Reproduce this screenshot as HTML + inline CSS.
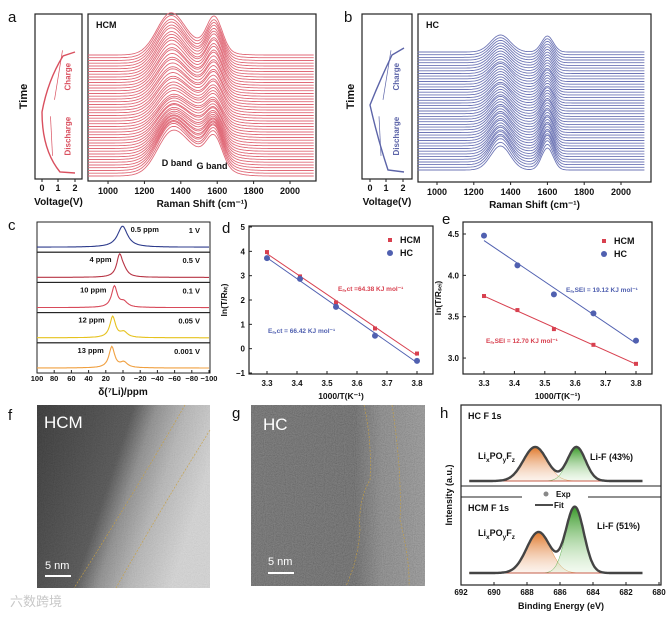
<!DOCTYPE html>
<html><head><meta charset="utf-8"><style>
html,body{margin:0;padding:0;background:#fff;}
svg{display:block;font-family:"Liberation Sans","Noto Sans CJK SC",sans-serif;}
text{font-weight:bold;}
</style></head><body>
<svg id="fig" width="669" height="617" viewBox="0 0 669 617" xmlns="http://www.w3.org/2000/svg">
<defs>
<filter id="noiseF" x="0" y="0" width="100%" height="100%"><feTurbulence type="fractalNoise" baseFrequency="0.9" numOctaves="2" seed="3"/><feColorMatrix type="saturate" values="0"/><feComponentTransfer><feFuncA type="linear" slope="0" intercept="0.45"/></feComponentTransfer></filter>
<linearGradient id="gradF" x1="0" y1="0" x2="1" y2="0.35"><stop offset="0" stop-color="#2a2a2a"/><stop offset="0.5" stop-color="#4a4a4a"/><stop offset="0.62" stop-color="#8a8a8a"/><stop offset="0.78" stop-color="#b5b5b5"/><stop offset="1" stop-color="#d5d5d5"/></linearGradient>
<linearGradient id="gradG" x1="0" y1="0" x2="1" y2="0"><stop offset="0" stop-color="#5a5a5a"/><stop offset="0.6" stop-color="#555"/><stop offset="0.75" stop-color="#7a7a7a"/><stop offset="1" stop-color="#8a8a8a"/></linearGradient>
<linearGradient id="gOr" x1="0" y1="0" x2="0" y2="1"><stop offset="0" stop-color="#e0782a"/><stop offset="1" stop-color="#f5d8c4" stop-opacity="0.3"/></linearGradient>
<linearGradient id="gGr" x1="0" y1="0" x2="0" y2="1"><stop offset="0" stop-color="#3a9a2a"/><stop offset="1" stop-color="#d8efd0" stop-opacity="0.3"/></linearGradient>
</defs>
<g id="root"></g>
</svg>
<script>
// ---------- DATA ----------
// panel a (HCM) per-line band heights (px), bottom to top
const hcmD=[30,31,32,31,30,29,28,27,26,25,24,24,23,23,22,22,22,21,21,22,22,23,23,24,24,25,26,26,27,28,28,29,30,30,31,32,32,33,33,34,34,35,35,36,36];
const hcmG=[27,28,29,29,28,27,26,25,24,23,22,22,21,21,20,20,20,19,19,20,20,21,21,22,22,23,24,24,25,26,26,27,28,28,29,29,30,30,31,31,31,32,32,32,33];
const hcmM=[24,24,23,23,22,22,21,21,20,20,20,19,19,19,18,18,18,18,17,17,17,16,16,16,15,15,15,14,14,14,13,13,13,12,12,12,12,11,11,11,11,10,10,10,10];
// panel b (HC)
const hcD=[24,25,26,26,25,25,24,24,23,23,23,22,22,22,21,21,21,20,20,20,20,19,19,19,19,19,18,18,18,18,18,18,18,18,17,17,17,17,17,17,17,17,17,17,17];
const hcG=[22,23,24,24,24,23,23,22,22,22,21,21,21,20,20,20,19,19,19,19,18,18,18,18,18,17,17,17,17,17,17,17,16,16,16,16,16,16,16,16,16,16,16,16,16];
const ramanTicks=[1000,1200,1400,1600,1800,2000];
// panel c
const nmrShifts=[0.5,4,10,12,13];
const nmrLabels=["0.5 ppm","4 ppm","10 ppm","12 ppm","13 ppm"];
const nmrVolt=["1 V","0.5 V","0.1 V","0.05 V","0.001 V"];
const nmrColors=["#2d3b8c","#b83545","#d84a5a","#e6c21e","#f0a040"];
const nmrTicks=[100,80,60,40,20,0,-20,-40,-60,-80,-100];
// panel d
const tempX=[3.3,3.41,3.53,3.66,3.8];
const dHCM=[3.97,2.97,1.9,0.83,-0.2];
const dHC=[3.72,2.87,1.72,0.53,-0.5];
const dYTicks=[-1,0,1,2,3,4,5];
// panel e
const eHCM=[3.75,3.58,3.35,3.16,2.93];
const eHC=[4.48,4.12,3.77,3.54,3.21];
const eYTicks=[3.0,3.5,4.0,4.5];
const xTicksDE=[3.3,3.4,3.5,3.6,3.7,3.8];
// panel h (center eV, height px, sigma eV)
const hTopCenters=[687.5,685.0];
const hTopHeights=[34,34];
const hBotCenters=[687.3,685.1];
const hBotHeights=[41,66];
const hSigmas=[0.72,0.55];
const hTicks=[692,690,688,686,684,682,680];

// ---------- HELPERS ----------
const NS="http://www.w3.org/2000/svg";
const root=document.getElementById('root');
function mk(tag,attrs,parent){const e=document.createElementNS(NS,tag);for(const k in attrs)e.setAttribute(k,attrs[k]);(parent||root).appendChild(e);return e;}
function txt(x,y,s,size,opts){opts=opts||{};const t=mk('text',{x:x,y:y,'font-size':size,'text-anchor':opts.anchor||'middle',fill:opts.fill||'#111'},opts.parent);if(opts.rot)t.setAttribute('transform','rotate('+opts.rot+' '+x+' '+y+')');if(opts.weight)t.style.fontWeight=opts.weight;t.textContent=s;return t;}
function rect(x,y,w,h,stroke,sw){return mk('rect',{x:x,y:y,width:w,height:h,fill:'none',stroke:stroke||'#222','stroke-width':sw||1.2});}
function line(x1,y1,x2,y2,c,w){return mk('line',{x1:x1,y1:y1,x2:x2,y2:y2,stroke:c||'#222','stroke-width':w||1});}
function g(x,c,s){return Math.exp(-Math.pow((x-c)/s,2));}

// ---------- PANEL LABELS ----------
[['a',8,22],['b',344,22],['c',8,230],['d',222,233],['e',442,224],['f',8,420],['g',232,418],['h',440,418]].forEach(p=>{const t=txt(p[1],p[2],p[0],15,{anchor:'start'});t.style.fontWeight='normal';});

// ---------- RAMAN PANELS ----------
function voltPanel(x0,y0,w,h,ticksX,col,pts,name){
  const r=rect(x0,y0,w,h);
  ticksX.forEach((tx,i)=>{line(tx,y0+h,tx,y0+h+3);txt(tx,y0+h+12,String(i),9);});
  const p=mk('path',{d:pts,fill:'none',stroke:col,'stroke-width':1.4});
  txt(x0+w/2,y0+h+26,'Voltage(V)',10);
  const tm=txt(x0-8,y0+h/2,'Time',11,{rot:-90});
  txt(x0+w/2+12,y0+h*0.38,'Charge',8,{rot:-90,fill:col});
  txt(x0+w/2+12,y0+h*0.74,'Discharge',8,{rot:-90,fill:col});
  line(x0+w/2-4,y0+h*0.52,x0+w/2+4,y0+h*0.22,col,0.7);
  line(x0+w/2-6,y0+h*0.86,x0+w/2-8,y0+h*0.62,col,0.7);
}
function ramanPanel(x0,y0,w,h,scale,Ds,Gs,Ms,baseBot,baseTop,col,dC,gC,dS,gS,name,lbl){
  const fr=rect(x0,y0,w,h);
  const n=Ds.length;const grp=mk('g',{});
  for(let i=n-1;i>=0;i--){
    const base=baseBot+(baseTop-baseBot)*i/(n-1);let d='';
    for(let v=scale.min;v<=scale.max;v+=8){
      const y=base-(Ds[i]*g(v,dC,dS)+Gs[i]*g(v,gC,gS)+(Ms?Ms[i]*g(v,1460,170):0));
      d+=(d?'L':'M')+scale.x(v).toFixed(1)+' '+y.toFixed(1);
    }
    const p=mk('path',{d:d,fill:'none',stroke:col,'stroke-width':0.9},grp);
    
    
  }
  ramanTicks.forEach(t=>{const x=scale.x(t);line(x,y0+h,x,y0+h+3);txt(x,y0+h+13,String(t),9);});
  txt(x0+w/2,y0+h+26,'Raman Shift (cm\u207B\u00B9)',10);
  txt(x0+8,y0+14,lbl,9,{anchor:'start'});
}
const sa={min:890,max:2135,x:v=>88+(v-890)*0.182};
voltPanel(35,14,47,165,[42,58,75],'#d9505f','M75 52 L63 56 Q48 80 42 112 Q42 150 60 172 L75 173','hcm');
ramanPanel(88,14,228,167,sa,hcmD,hcmG,hcmM,176,55,'#e06a78',1340,1585,105,60,'hcm','HCM');
txt(177,166,'D band',9);txt(212,169,'G band',9);
const sb={min:895,max:2130,x:v=>437+(v-1000)*0.184};
voltPanel(362,14,50,165,[370,386,403],'#5c64a8','M404 48 L392 55 Q380 80 370 105 Q378 140 388 170 L404 172','hc');
ramanPanel(418,14,233,168,sb,hcD,hcG,null,170,52,'#6e76b6',1345,1600,75,45,'hc','HC');

// ---------- PANEL C ----------
(function(){
  const x0=37,y0=222,w=173,sh=30.2;const px=p=>123-p*0.86;
  nmrShifts.forEach((s,i)=>{
    const top=y0+i*sh;const fr=rect(x0,top,w,sh,'#222',1);
    let d='';for(let p=100;p>=-100;p-=1){const main=1/(1+Math.pow((p-s)/(i==0?7:4),2));const sh2=i>0?0.25/(1+Math.pow((p+1)/5,2)):0;
      const y=top+sh-5-21*(main+sh2);d+=(d?'L':'M')+px(p).toFixed(1)+' '+y.toFixed(1);}
    const c=mk('path',{d:d,fill:'none',stroke:nmrColors[i],'stroke-width':1.1});
    txt(px(s)-(i==0?-8:8),top+10,nmrLabels[i],7.5,{anchor:i==0?'start':'end'});
    txt(200,top+11,nmrVolt[i],7.5,{anchor:'end'});
  });
  nmrTicks.forEach(t=>{line(px(t),373,px(t),370);txt(px(t),381,String(t).replace('-','\u2212'),7.5);});
  txt(123,395,'\u03B4(\u2077Li)/ppm',10);
})();

// ---------- PANEL D / E ----------
function scatterPanel(o){
  const fr=rect(o.x0,o.y0,o.w,o.h);
  xTicksDE.forEach(t=>{const x=o.sx(t);line(x,o.y0+o.h,x,o.y0+o.h-3);txt(x,o.y0+o.h+12,t.toFixed(1),8);});
  o.yt.forEach(t=>{const y=o.sy(t);line(o.x0,y,o.x0+3,y);txt(o.x0-4,y+3,o.fmt(t),8,{anchor:'end'});});
  txt(o.x0+o.w/2,o.y0+o.h+25,'1000/T(K\u207B\u00B9)',8.5);
  txt(o.x0-22,o.y0+o.h/2,o.ylab,8.5,{rot:-90});
  [[o.a,'#d8404f','hcm'],[o.b,'#5060b0','hc']].forEach((sr,k)=>{
    const ys=sr[0];const n=ys.length;let mx=0,my=0;for(let i=0;i<n;i++){mx+=tempX[i];my+=ys[i];}mx/=n;my/=n;
    let sxy=0,sxx=0;for(let i=0;i<n;i++){sxy+=(tempX[i]-mx)*(ys[i]-my);sxx+=(tempX[i]-mx)*(tempX[i]-mx);}const m=sxy/sxx,b=my-m*mx;
    const fl=line(o.sx(3.3),o.sy(m*3.3+b),o.sx(3.8),o.sy(m*3.8+b),sr[1],1);
    ys.forEach((v,i)=>{let e;if(k==0){e=mk('rect',{x:o.sx(tempX[i])-2,y:o.sy(v)-2,width:4,height:4,fill:sr[1]});}else{e=mk('circle',{cx:o.sx(tempX[i]),cy:o.sy(v),r:3,fill:sr[1]});}
      });
  });
  mk('rect',{x:o.lx-2,y:o.ly-2,width:4,height:4,fill:'#d8404f'});txt(o.lx+10,o.ly+3,'HCM',9,{anchor:'start'});
  mk('circle',{cx:o.lx,cy:o.ly+13,r:3,fill:'#5060b0'});txt(o.lx+10,o.ly+16,'HC',9,{anchor:'start'});
  o.ann.forEach(a=>txt(a[0],a[1],a[2],6.5,{anchor:'start',fill:a[3]}));
}
scatterPanel({name:'arrhenius-ct',x0:249,y0:226,w:184,h:148,sx:v=>267+(v-3.3)*300,sy:v=>373-(v+1)*24.33,yt:dYTicks,fmt:t=>String(t).replace('-','\u2212'),ylab:'ln(T/R\u2095\u209C)',a:dHCM,b:dHC,lx:390,ly:240,
  ann:[[338,291,'E\u2090,ct =64.38 KJ mol\u207B\u00B9','#d8404f'],[268,333,'E\u2090,ct = 66.42 KJ mol\u207B\u00B9','#5060b0']]});
scatterPanel({name:'arrhenius-sei',x0:463,y0:222,w:189,h:152,sx:v=>484+(v-3.3)*304,sy:v=>234-(v-4.5)*82.7,yt:eYTicks,fmt:t=>t.toFixed(1),ylab:'ln(T/R\u209B\u2091\u1D62)',a:eHCM,b:eHC,lx:604,ly:241,
  ann:[[566,292,'E\u2090,SEI = 19.12 KJ mol\u207B\u00B9','#5060b0'],[486,343,'E\u2090,SEI = 12.70 KJ mol\u207B\u00B9','#d8404f']]});

// ---------- TEM IMAGES ----------
(function(){
  const f=mk('g',{});
  mk('rect',{x:37,y:405,width:173,height:183,fill:'url(#gradF)'},f);
  mk('rect',{x:37,y:405,width:173,height:183,filter:'url(#noiseF)',opacity:0.35},f);
  mk('path',{d:'M185 405 Q130 500 74 588',fill:'none',stroke:'#c8a040','stroke-width':0.6,'stroke-dasharray':'2 1.5'},f);
  mk('path',{d:'M210 430 Q160 510 116 588',fill:'none',stroke:'#c8a040','stroke-width':0.6,'stroke-dasharray':'2 1.5'},f);
  txt(44,428,'HCM',17,{anchor:'start',fill:'#fff',weight:'normal',parent:f});
  txt(45,569,'5 nm',11,{anchor:'start',fill:'#fff',weight:'normal',parent:f});
  line(45,576,71,576,'#fff',2);
  const gg=mk('g',{});
  mk('rect',{x:251,y:405,width:174,height:181,fill:'url(#gradG)'},gg);
  mk('rect',{x:251,y:405,width:174,height:181,filter:'url(#noiseF)',opacity:0.7},gg);
  mk('path',{d:'M364 405 Q372 440 370 480 Q358 500 360 530 Q358 560 346 586',fill:'none',stroke:'#c8a040','stroke-width':0.6,'stroke-dasharray':'2 1.5'},gg);
  mk('path',{d:'M392 405 Q402 470 400 520 Q410 560 409 586',fill:'none',stroke:'#c8a040','stroke-width':0.6,'stroke-dasharray':'2 1.5'},gg);
  txt(263,430,'HC',17,{anchor:'start',fill:'#fff',weight:'normal',parent:gg});
  txt(268,565,'5 nm',11,{anchor:'start',fill:'#fff',weight:'normal',parent:gg});
  line(268,573,294,573,'#fff',2);
})();

// ---------- PANEL H ----------
(function(){
  const x0=461,x1=661,y0=405,y1=585,hx=v=>461+(692-v)*16.5;
  const fr=rect(x0,y0,x1-x0,y1-y0);
  line(x0,486,x1,486,'#222',1);line(x0,497,522,497,'#222',1);line(588,497,x1,497,'#222',1);
  hTicks.forEach(t=>{line(hx(t),y1,hx(t),y1-3);txt(hx(t),y1+10,String(t),8);});
  txt(561,609,'Binding Energy (eV)',9);txt(452,495,'Intensity (a.u.)',9,{rot:-90});
  function spec(base,hs,tag){
    [0,1].forEach(k=>{let d='M'+hx(691.5)+' '+base;for(let v=691.5;v>=681;v-=0.05)d+='L'+hx(v).toFixed(1)+' '+(base-hs[k]*g(v,(tag=='top'?hTopCenters:hBotCenters)[k],hSigmas[k]*1.41)).toFixed(1);d+='L'+hx(681)+' '+base+'Z';
      const p=mk('path',{d:d,fill:k==0?'url(#gOr)':'url(#gGr)',stroke:k==0?'#e08a40':'#60b050','stroke-width':0.5});});
    line(hx(691.5),base,hx(681),base,'#d84040',0.8);
    let d='';const cs=tag=='top'?hTopCenters:hBotCenters;
    for(let v=691.5;v>=681;v-=0.05){const y=base-hs[0]*g(v,cs[0],hSigmas[0]*1.41)-hs[1]*g(v,cs[1],hSigmas[1]*1.41);d+=(d?'L':'M')+hx(v).toFixed(1)+' '+y.toFixed(1);}
    const p=mk('path',{d:d,fill:'none',stroke:'#444','stroke-width':2.4});
  }
  spec(481,hTopHeights,'top');spec(573,hBotHeights,'bot');
  txt(468,419,'HC F 1s',9,{anchor:'start'});txt(468,511,'HCM F 1s',9,{anchor:'start'});
  function lix(x,y){const t=mk('text',{x:x,y:y,'font-size':9,fill:'#111'});
    [['Li',0],['x',1],['PO',0],['y',1],['F',0],['z',1]].forEach(p=>{const s=mk('tspan',{},t);s.textContent=p[0];if(p[1]){s.setAttribute('font-size','6.5');s.setAttribute('dy','3');}else if(t.childNodes.length>1){s.setAttribute('dy','-3');}});
    }
  lix(478,459);txt(590,460,'Li-F (43%)',9,{anchor:'start'});
  lix(478,536);txt(597,529,'Li-F (51%)',9,{anchor:'start'});
  mk('circle',{cx:546,cy:494,r:2.5,fill:'#888'});txt(556,497,'Exp',8,{anchor:'start'});
  line(535,505,553,505,'#111',1.4);txt(554,508,'Fit',8,{anchor:'start'});
})();

// watermark
const wm=txt(10,606,'\u516D\u6570\u8DE8\u5883',13,{anchor:'start',fill:'#c8c8c8',weight:'normal'});
</script>
</body></html>
